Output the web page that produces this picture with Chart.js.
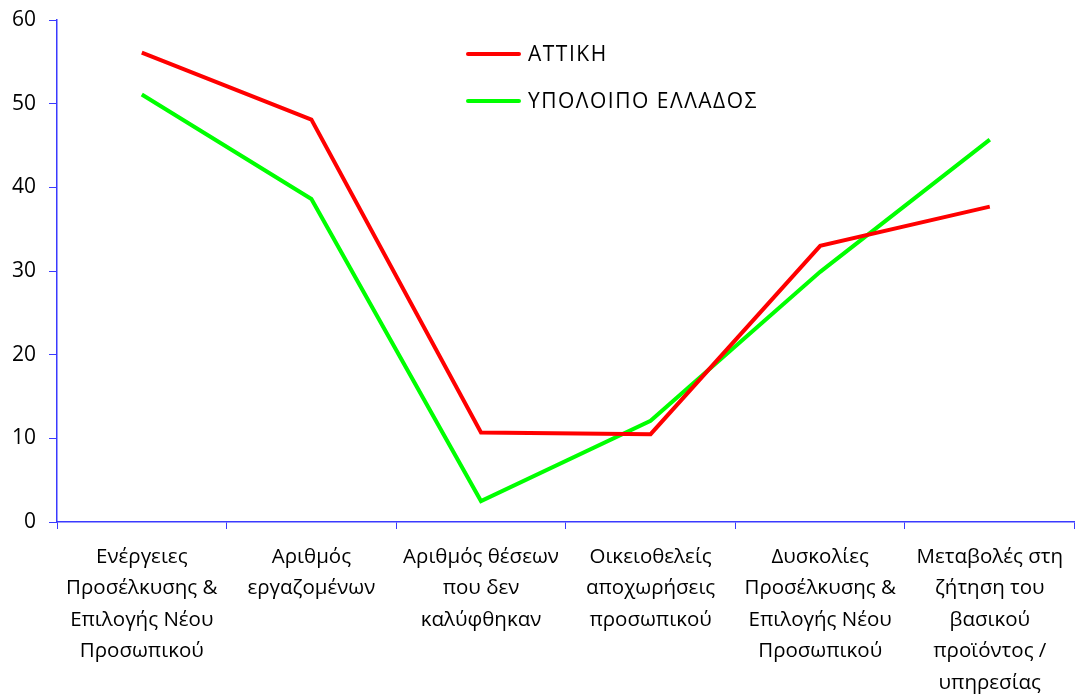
<!DOCTYPE html>
<html lang="el">
<head>
  <meta charset="UTF-8" />
  <title>ΑΤΤΙΚΗ - ΥΠΟΛΟΙΠΟ ΕΛΛΑΔΟΣ</title>
  <style>
    html, body { margin: 0; padding: 0; background: #fff; }
    #wrap { width: 1075px; height: 694px; position: relative; }
  </style>
</head>
<body>
  <div id="wrap"><canvas id="chart"></canvas></div>
  <script src="https://cdn.jsdelivr.net/npm/chart.js"></script>
  <script>
    // categories (one array per label, split into lines)
    const categories = [
      ['Ενέργειες', 'Προσέλκυσης &', 'Επιλογής Νέου', 'Προσωπικού'],
      ['Αριθμός', 'εργαζομένων'],
      ['Αριθμός θέσεων', 'που δεν', 'καλύφθηκαν'],
      ['Οικειοθελείς', 'αποχωρήσεις', 'προσωπικού'],
      ['Δυσκολίες', 'Προσέλκυσης &', 'Επιλογής Νέου', 'Προσωπικού'],
      ['Μεταβολές στη', 'ζήτηση του', 'βασικού', 'προϊόντος /', 'υπηρεσίας']
    ];
    const seriesNames = ['ΑΤΤΙΚΗ', 'ΥΠΟΛΟΙΠΟ ΕΛΛΑΔΟΣ'];
    const attiki = [56.1, 48.1, 10.7, 10.5, 33.0, 37.7];
    const restOfGreece = [51.1, 38.6, 2.5, 12.1, 29.9, 45.7];
    const yTicks = [0, 10, 20, 30, 40, 50, 60];

    const FONT = "'Open Sans', 'Noto Sans', sans-serif";
    const AXIS_BLUE = '#3a3aff';

    // legend drawn inside the plot, like the original
    const innerLegend = {
      id: 'innerLegend',
      afterDraw(chart) {
        const ctx = chart.ctx;
        ctx.save();
        ctx.font = '21px ' + FONT;
        ctx.letterSpacing = '1.5px';
        ctx.textBaseline = 'middle';
        chart.data.datasets.forEach((ds, i) => {
          const y = 54 + i * 47;
          ctx.strokeStyle = ds.borderColor;
          ctx.lineWidth = 4;
          ctx.lineCap = 'round';
          ctx.beginPath();
          ctx.moveTo(468, y);
          ctx.lineTo(519, y);
          ctx.stroke();
          ctx.fillStyle = '#000';
          ctx.fillText(ds.label, 528, y + 1.5);
        });
        ctx.restore();
      }
    };

    new Chart(document.getElementById('chart'), {
      type: 'line',
      data: {
        labels: categories,
        datasets: [
          {
            label: seriesNames[0],
            data: attiki,
            borderColor: '#ff0000',
            borderWidth: 4,
            pointRadius: 0,
            tension: 0
          },
          {
            label: seriesNames[1],
            data: restOfGreece,
            borderColor: '#00ff00',
            borderWidth: 4,
            pointRadius: 0,
            tension: 0
          }
        ]
      },
      options: {
        responsive: true,
        maintainAspectRatio: false,
        animation: false,
        layout: { padding: { top: 20, right: 0, left: 0, bottom: 0 } },
        plugins: {
          legend: { display: false },
          tooltip: { enabled: false }
        },
        scales: {
          x: {
            offset: true,
            afterFit(scale) { scale.height = 172; },
            border: { color: AXIS_BLUE, width: 1.5 },
            grid: {
              drawOnChartArea: false,
              drawTicks: true,
              tickLength: 7,
              color: AXIS_BLUE,
              offset: true
            },
            ticks: {
              color: '#000',
              font: { family: FONT, size: 20.5, lineHeight: 1.54 },
              maxRotation: 0,
              autoSkip: false,
              padding: 12
            }
          },
          y: {
            min: 0,
            max: 60,
            afterFit(scale) {
              scale.width = 57;
              scale.paddingTop = 0;
              scale.paddingBottom = 0;
            },
            afterBuildTicks(scale) { scale.ticks = yTicks.map(v => ({ value: v })); },
            border: { color: AXIS_BLUE, width: 1.5 },
            grid: {
              drawOnChartArea: false,
              drawTicks: true,
              tickLength: 8,
              color: AXIS_BLUE
            },
            ticks: {
              color: '#000',
              font: { family: FONT, size: 21 },
              padding: 13
            }
          }
        }
      },
      plugins: [innerLegend]
    });
  </script>
</body>
</html>
